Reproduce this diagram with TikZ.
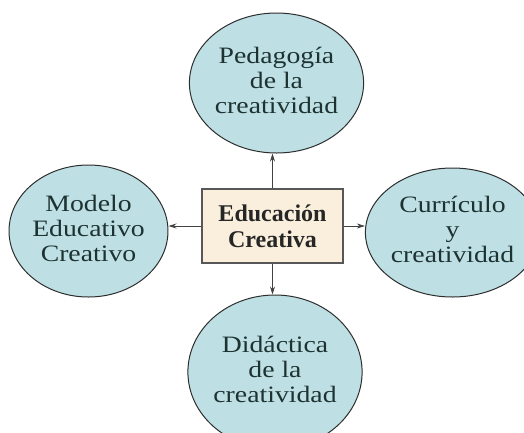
\documentclass[tikz,border=0pt]{standalone}
\usepackage{fontspec}
\usepackage{graphicx}
\setmainfont{Liberation Serif}
\usetikzlibrary{shapes.geometric,arrows.meta}
\definecolor{circfill}{RGB}{190,224,228}
\definecolor{boxfill}{RGB}{250,239,220}
\definecolor{circtext}{RGB}{30,50,50}
\definecolor{edgecol}{RGB}{45,45,45}
\newcommand{\ctxt}[1]{\scalebox{1.18}[1]{\begin{tabular}{@{}c@{}}#1\end{tabular}}}
\tikzset{
  topic/.style={ellipse, draw=edgecol, line width=1pt, fill=circfill, inner sep=0pt,
    align=center, text=circtext, font=\fontsize{23.5}{25}\selectfont},
  centerbox/.style={rectangle, draw=edgecol!80, line width=1.3pt, fill=boxfill,
    align=center, inner sep=0pt, minimum width=141pt, minimum height=74pt,
    font=\bfseries\fontsize{24}{26}\selectfont, text=black!85},
  link/.style={draw=edgecol!90, line width=0.8pt, -{Stealth[length=8pt,width=5pt]}}
}
\begin{document}
\begin{tikzpicture}[x=1pt,y=-1pt]
\useasboundingbox (0,0) rectangle (524,432);
\node[centerbox] (c) at (272.5,226) {Educación\\Creativa};
\node[topic, minimum width=139pt, minimum height=140pt] (t) at (276.5,83) {\ctxt{Pedagogía\\de la\\creatividad}};
\node[topic, minimum width=157pt, minimum height=132pt] (l) at (88.5,231) {\ctxt{Modelo\\Educativo\\Creativo}};
\node[topic, minimum width=145pt, minimum height=129pt] (r) at (452.5,232.5) {\ctxt{Currículo\\y\\creatividad}};
\node[topic, minimum width=156pt, minimum height=154pt] (b) at (275,372) {\ctxt{Didáctica\\de la\\creatividad}};
\draw[link] (c.north) -- (c.north |- t.south);
\draw[link] (c.west) -- (c.west -| l.east);
\draw[link] (c.east) -- (c.east -| r.west);
\draw[link] (c.south) -- (c.south |- b.north);
\end{tikzpicture}
\end{document}
